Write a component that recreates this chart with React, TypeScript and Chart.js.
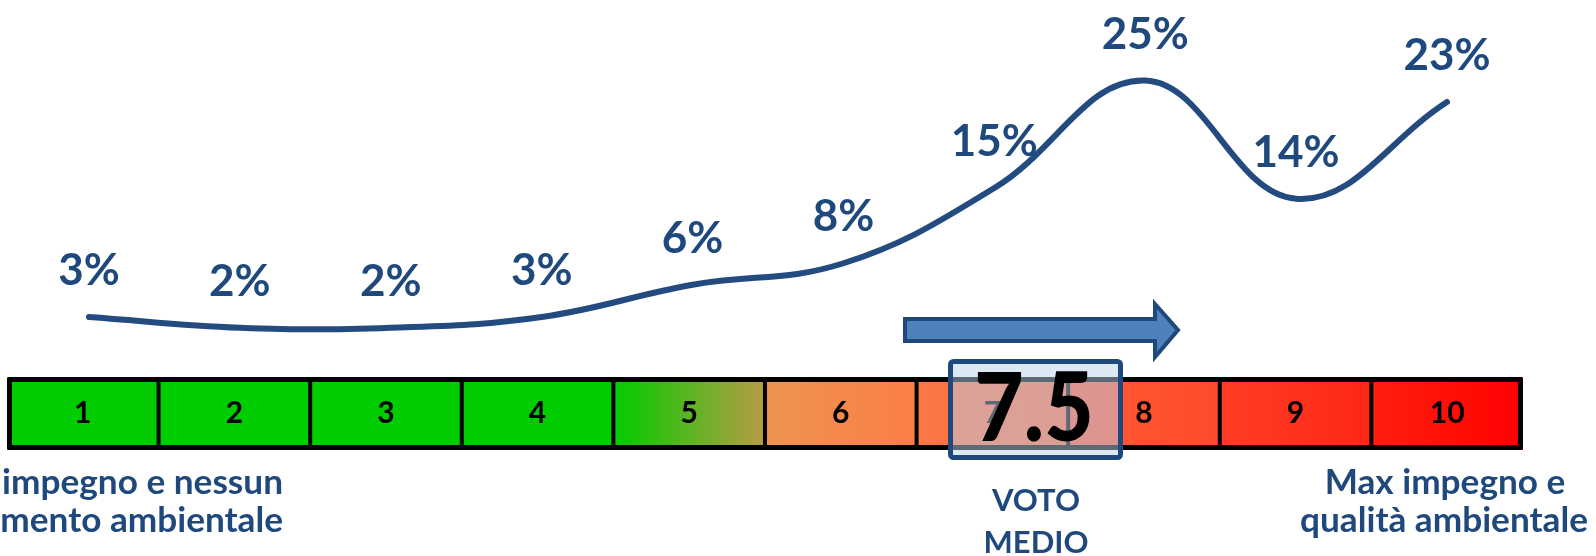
import React, { useEffect, useRef } from "react";
import { Chart, registerables } from "chart.js";

Chart.register(...registerables);

// ---- data ----
const categories = ["1", "2", "3", "4", "5", "6", "7", "8", "9", "10"];
const shares = [3, 2, 2, 3, 6, 8, 15, 25, 14, 23];
const shareLabels = ["3%", "2%", "2%", "3%", "6%", "8%", "15%", "25%", "14%", "23%"];
const scaleLabels = ["1", "2", "3", "4", "5", "6", "7", "8", "9", "10"];
const meanVote = "7.5";
const meanCaption = ["VOTO", "MEDIO"];
const leftCaption = ["impegno e nessun", "mento ambientale"];
const rightCaption = ["Max impegno e", "qualità ambientale"];

// ---- styles ----
const BLUE = "#1F497D";
const FONT = "Lato, 'Open Sans', sans-serif";
const cellFills: [string, string][] = [
  ["#00CC00", "#00CC00"],
  ["#00CC00", "#00CC00"],
  ["#00CC00", "#00CC00"],
  ["#00CC00", "#00CC00"],
  ["#00CC00", "#B89C46"],
  ["#EE9450", "#FB7E48"],
  ["#FB7845", "#FC6A3E"],
  ["#FF5A36", "#FF4A2C"],
  ["#FF3C27", "#FF2616"],
  ["#FF1E10", "#FF0000"],
];

function fitSize(ctx: CanvasRenderingContext2D, text: string, width: number) {
  ctx.font = `bold 100px ${FONT}`;
  const w = ctx.measureText(text).width;
  return (100 * width) / w;
}

const decor = {
  id: "decor",
  afterDatasetsDraw(chart: any) {
    const ctx: CanvasRenderingContext2D = chart.ctx;
    const xs = chart.scales.x2;
    const meta = chart.getDatasetMeta(0);

    ctx.save();

    // percentage labels
    ctx.fillStyle = BLUE;
    ctx.textAlign = "center";
    ctx.textBaseline = "alphabetic";
    ctx.font = `bold 44px ${FONT}`;
    meta.data.forEach((pt: any, i: number) => {
      ctx.fillText(shareLabels[i], pt.x, pt.y - 32);
    });

    // scale bar
    const barTop = 377;
    const barBot = 450;
    const left = xs.getPixelForValue(0.5);
    const right = xs.getPixelForValue(scaleLabels.length + 0.5);
    scaleLabels.forEach((_, i) => {
      const a = xs.getPixelForValue(i + 0.5);
      const b = xs.getPixelForValue(i + 1.5);
      const g = ctx.createLinearGradient(a, 0, b, 0);
      g.addColorStop(0, cellFills[i][0]);
      g.addColorStop(1, cellFills[i][1]);
      ctx.fillStyle = g;
      ctx.fillRect(a, barTop, b - a, barBot - barTop);
    });
    ctx.strokeStyle = "#000";
    ctx.lineWidth = 4;
    for (let i = 1; i < scaleLabels.length; i++) {
      const p = xs.getPixelForValue(i + 0.5);
      ctx.beginPath();
      ctx.moveTo(p, barTop);
      ctx.lineTo(p, barBot);
      ctx.stroke();
    }
    ctx.lineWidth = 5;
    ctx.lineJoin = "round";
    ctx.strokeRect(left + 2.5, barTop + 2.5, right - left - 5, barBot - barTop - 5);

    ctx.fillStyle = "#000";
    ctx.font = `bold 30px ${FONT}`;
    scaleLabels.forEach((t, i) => {
      ctx.fillText(t, xs.getPixelForValue(i + 1), 423);
    });

    // arrow
    ctx.beginPath();
    ctx.moveTo(905, 319);
    ctx.lineTo(1155, 319);
    ctx.lineTo(1155, 304);
    ctx.lineTo(1178, 330);
    ctx.lineTo(1155, 357);
    ctx.lineTo(1155, 341);
    ctx.lineTo(905, 341);
    ctx.closePath();
    ctx.fillStyle = "#4F81BD";
    ctx.fill();
    ctx.strokeStyle = BLUE;
    ctx.lineWidth = 4;
    ctx.lineJoin = "miter";
    ctx.stroke();

    // mean box
    const bx = 950.5, by = 361.5, bw = 170, bh = 96;
    ctx.beginPath();
    (ctx as any).roundRect ? (ctx as any).roundRect(bx, by, bw, bh, 3) : ctx.rect(bx, by, bw, bh);
    ctx.fillStyle = "rgba(188,209,235,0.5)";
    ctx.fill();
    ctx.strokeStyle = BLUE;
    ctx.lineWidth = 5;
    ctx.stroke();

    ctx.fillStyle = "#000";
    ctx.font = `900 95px ${FONT}`;
    const m = ctx.measureText(meanVote);
    const inkW = m.actualBoundingBoxLeft + m.actualBoundingBoxRight;
    ctx.save();
    ctx.translate(1034, 441);
    ctx.scale(112 / inkW, 1);
    ctx.textAlign = "center";
    ctx.fillText(meanVote, 0, 0);
    ctx.restore();

    // captions
    ctx.fillStyle = BLUE;
    ctx.textAlign = "center";
    ctx.font = `bold 31px ${FONT}`;
    ctx.fillText(meanCaption[0], 1036, 511);
    ctx.fillText(meanCaption[1], 1036, 553);

    const rs = fitSize(ctx, rightCaption[1], 288);
    ctx.font = `bold ${rs}px ${FONT}`;
    ctx.fillText(rightCaption[0], 1445, 494);
    ctx.fillText(rightCaption[1], 1444, 532);

    ctx.textAlign = "right";
    ctx.fillText(leftCaption[0], 283, 494);
    ctx.fillText(leftCaption[1], 283, 532);

    ctx.restore();
  },
};

export default function App() {
  const ref = useRef<HTMLCanvasElement | null>(null);

  useEffect(() => {
    if (!ref.current) return;
    const chart = new Chart(ref.current, {
      type: "line",
      data: {
        labels: categories,
        datasets: [
          {
            data: shares,
            borderColor: "#234B80",
            borderWidth: 6,
            borderCapStyle: "round",
            tension: 0.4,
            pointRadius: 0,
            fill: false,
            clip: false as any,
          },
        ],
      },
      options: {
        animation: false,
        responsive: false,
        events: [],
        layout: {
          autoPadding: false,
          padding: { left: 89, right: 149, top: 26.75, bottom: 206.75 },
        },
        plugins: { legend: { display: false }, tooltip: { enabled: false } },
        scales: {
          x: { type: "category", display: false, offset: false },
          x2: { type: "linear", axis: "x", display: false, min: 1.041, max: 9.999 },
          y: { type: "linear", display: false, min: 0, max: 30 },
        },
      },
      plugins: [decor],
    });
    return () => chart.destroy();
  }, []);

  return (
    <div style={{ position: "absolute", left: 0, top: 0, width: 1596, height: 556, background: "#fff" }}>
      <canvas ref={ref} width={1596} height={556} style={{ display: "block", width: 1596, height: 556 }} />
    </div>
  );
}
